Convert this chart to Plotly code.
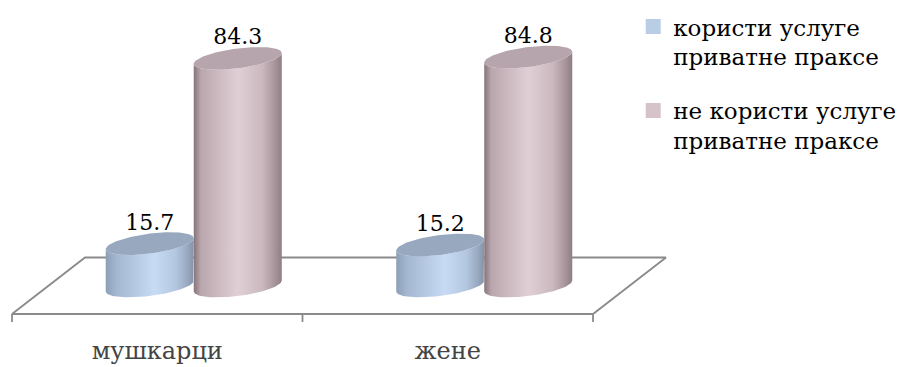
import numpy as np
import plotly.graph_objects as go

# ---- data ----
categories = ["мушкарци", "жене"]
series_names = ["користи услуге<br>приватне праксе", "не користи услуге<br>приватне праксе"]
uses_private = [15.7, 15.2]
not_uses_private = [84.3, 84.8]

series_values = [uses_private, not_uses_private]

# ---- styling ----
FONT = "DejaVu Serif"
FONT_SIZE = 24
LEGEND_SIZE = 23
LABEL_SIZE = 22
LEGEND_COLORS = ["#b9cde5", "#d6c3c9"]
BODY_SCALES = [
    [[0.0, "#8c9fb7"], [0.12, "#a3b7d0"], [0.55, "#c7dcf4"], [0.8, "#b3c6df"], [0.93, "#97a8bf"], [1.0, "#8293a9"]],
    [[0.0, "#857479"], [0.08, "#baa6ad"], [0.5, "#e0d0d6"], [0.78, "#cbb8bf"], [0.92, "#a7959b"], [1.0, "#8f7e84"]],
]
TOP_COLORS = ["#97a8bf", "#b6a5ac"]
FLOOR_COLOR = "#8a8a8a"

# ---- 3-D projection settings (x in category units, y in value units) ----
X_RANGE = [-0.5413, 2.5637]
Y_RANGE = [-30.0, 105.93]
DEPTH_DX = 0.2513          # horizontal shift from front to back edge of the floor
FLOOR_FRONT_Y = -10.37
FLOOR_BACK_Y = 10.56
TICK_LEN = 2.96
RX = 0.1515                # cylinder radius (x units)
RY = 3.7                   # ellipse half-height (value units)
TILT = 2.0                 # perspective tilt of the ellipses
LABEL_RISE = 7.2           # label centre above the cylinder top (value units)
SERIES_OFFSET = [-RX, RX]

t = np.linspace(0, 2 * np.pi, 121)


def ellipse(cx, cy, tt):
    return cx + RX * np.cos(tt), cy + RY * np.sin(tt) + TILT * np.cos(tt)


fig = go.Figure()

# floor of the 3-D plot area
n = len(categories)
fl, fr = -0.5, n - 0.5
floor_x = [fl, fr, fr + DEPTH_DX, fl + DEPTH_DX, fl]
floor_y = [FLOOR_FRONT_Y, FLOOR_FRONT_Y, FLOOR_BACK_Y, FLOOR_BACK_Y, FLOOR_FRONT_Y]
for k in range(n + 1):
    floor_x += [None, fl + k, fl + k]
    floor_y += [None, FLOOR_FRONT_Y, FLOOR_FRONT_Y - TICK_LEN]
fig.add_trace(go.Scatter(x=floor_x, y=floor_y, mode="lines",
                         line=dict(color=FLOOR_COLOR, width=1.8),
                         hoverinfo="skip", showlegend=False))

# cylinders
for i in range(n):
    for s, vals in enumerate(series_values):
        v = vals[i]
        cx = i + DEPTH_DX / 2 + SERIES_OFFSET[s]
        front = t[(t >= np.pi) & (t <= 2 * np.pi)]
        tx, ty = ellipse(cx, v, front)
        bx, by = ellipse(cx, 0.0, front[::-1])
        body_x = np.concatenate([tx, bx, tx[:1]])
        body_y = np.concatenate([ty, by, ty[:1]])
        fig.add_trace(go.Scatter(
            x=body_x, y=body_y, mode="lines", fill="toself",
            line=dict(width=0), fillgradient=dict(type="horizontal", colorscale=BODY_SCALES[s]),
            hoverinfo="skip", showlegend=False))
        ex, ey = ellipse(cx, v, t)
        fig.add_trace(go.Scatter(
            x=ex, y=ey, mode="lines", fill="toself", line=dict(width=0),
            fillcolor=TOP_COLORS[s], hoverinfo="skip", showlegend=False))

# value labels
for s, vals in enumerate(series_values):
    xs = [i + DEPTH_DX / 2 + SERIES_OFFSET[s] for i in range(n)]
    ys = [v + LABEL_RISE for v in vals]
    fig.add_trace(go.Scatter(
        x=xs, y=ys, mode="text", text=[f"{v:.1f}" for v in vals],
        textposition="middle center", textfont=dict(family=FONT, size=LABEL_SIZE, color="black"),
        hoverinfo="skip", showlegend=False, cliponaxis=False))

# legend entries
for s, name in enumerate(series_names):
    fig.add_trace(go.Scatter(
        x=[None], y=[None], mode="markers", name=name, legendgroup=f"g{s}",
        marker=dict(symbol="square", size=15, color=LEGEND_COLORS[s])))

fig.update_layout(
    width=902, height=367,
    margin=dict(l=0, r=0, t=0, b=0, autoexpand=False),
    paper_bgcolor="white", plot_bgcolor="white",
    font=dict(family=FONT, color="black", size=FONT_SIZE),
    xaxis=dict(range=X_RANGE, showgrid=False, zeroline=False, showline=False,
               tickvals=list(range(n)), ticktext=categories, ticks="",
               ticklabelposition="inside", tickfont=dict(family=FONT, size=FONT_SIZE),
               fixedrange=True),
    yaxis=dict(range=Y_RANGE, visible=False, fixedrange=True),
    legend=dict(x=0.702, y=0.986, xanchor="left", yanchor="top",
                valign="top", tracegroupgap=21, font=dict(family=FONT, size=LEGEND_SIZE),
                bgcolor="rgba(0,0,0,0)"),
)

fig.write_html("out.html")
